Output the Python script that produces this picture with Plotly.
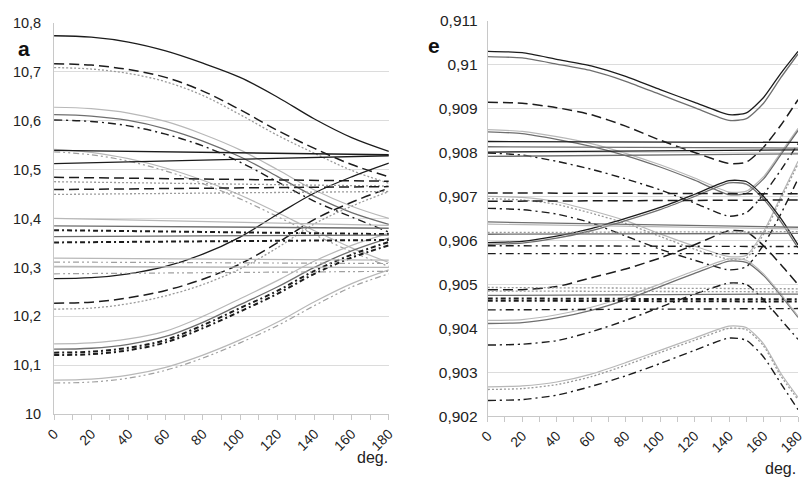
import plotly.graph_objects as go

# ---------------- data ----------------
X_A = [0, 20, 40, 60, 80, 100, 120, 140, 160, 180]
X_E = [0, 20, 40, 60, 80, 100, 120, 140, 150, 160, 170, 180]
X_FLAT = [0, 180]
X_TICKS = [0, 20, 40, 60, 80, 100, 120, 140, 160, 180]

A_YTICKS = [10, 10.1, 10.2, 10.3, 10.4, 10.5, 10.6, 10.7, 10.8]
A_YLABELS = ["10", "10,1", "10,2", "10,3", "10,4", "10,5", "10,6", "10,7", "10,8"]
E_YTICKS = [0.902, 0.903, 0.904, 0.905, 0.906, 0.907, 0.908, 0.909, 0.910, 0.911]
E_YLABELS = ["0,902", "0,903", "0,904", "0,905", "0,906", "0,907", "0,908", "0,909", "0,91", "0,911"]

# panel a - curves
a_top_solid = [10.773, 10.770, 10.760, 10.742, 10.717, 10.688, 10.648, 10.603, 10.565, 10.537]
a_dash_desc = [10.716, 10.713, 10.704, 10.688, 10.660, 10.622, 10.580, 10.543, 10.510, 10.485]
a_dot_desc = [10.708, 10.705, 10.696, 10.679, 10.651, 10.612, 10.570, 10.533, 10.498, 10.472]
a_lgray_desc1 = [10.627, 10.624, 10.615, 10.598, 10.572, 10.540, 10.500, 10.458, 10.425, 10.400]
a_gray_desc1 = [10.612, 10.609, 10.600, 10.583, 10.558, 10.526, 10.486, 10.445, 10.412, 10.388]
a_dashdot_desc = [10.601, 10.598, 10.589, 10.572, 10.548, 10.515, 10.475, 10.435, 10.403, 10.372]
a_lgray_desc2 = [10.541, 10.535, 10.522, 10.503, 10.478, 10.448, 10.412, 10.375, 10.340, 10.310]
a_gray_desc2 = [10.536, 10.530, 10.517, 10.497, 10.471, 10.440, 10.404, 10.367, 10.332, 10.302]
a_solid_rise = [10.277, 10.279, 10.287, 10.302, 10.327, 10.362, 10.408, 10.452, 10.485, 10.513]
a_dash_rise = [10.227, 10.229, 10.238, 10.253, 10.276, 10.307, 10.350, 10.398, 10.433, 10.462]
a_dot_rise = [10.215, 10.217, 10.226, 10.242, 10.265, 10.297, 10.340, 10.389, 10.425, 10.455]
a_lgray_rise1 = [10.144, 10.146, 10.154, 10.170, 10.200, 10.236, 10.273, 10.313, 10.345, 10.370]
a_gray_rise1 = [10.133, 10.135, 10.143, 10.159, 10.188, 10.224, 10.260, 10.300, 10.334, 10.360]
a_hdd_rise1 = [10.126, 10.128, 10.136, 10.152, 10.182, 10.217, 10.252, 10.293, 10.326, 10.352]
a_hdd_rise2 = [10.121, 10.123, 10.131, 10.147, 10.176, 10.210, 10.246, 10.287, 10.320, 10.345]
a_lgray_rise2 = [10.070, 10.072, 10.080, 10.096, 10.121, 10.152, 10.188, 10.230, 10.267, 10.295]
a_dashdot_rise = [10.064, 10.066, 10.074, 10.090, 10.115, 10.146, 10.181, 10.222, 10.260, 10.287]
# panel a - nearly flat lines (value at 0 and at 180 deg)
a_solid_flat1 = [10.539, 10.530]
a_solid_flat2 = [10.512, 10.528]
a_dash_flat1 = [10.484, 10.476]
a_dot_flat1 = [10.475, 10.466]
a_dash_flat2 = [10.459, 10.465]
a_dot_flat2 = [10.449, 10.455]
a_lgray_flat1 = [10.400, 10.386]
a_gray_flat1 = [10.385, 10.380]
a_hdd_flat1 = [10.376, 10.368]
a_gray_flat2 = [10.363, 10.366]
a_hdd_flat2 = [10.351, 10.356]
a_lgray_flat2 = [10.319, 10.315]
a_dashdot_flat1 = [10.311, 10.308]
a_lgray_flat3 = [10.302, 10.300]
a_dashdot_flat2 = [10.287, 10.292]

# panel e - curves
e_top_black = [0.91030, 0.91027, 0.91012, 0.90997, 0.90973, 0.90943, 0.90914, 0.90886, 0.90890, 0.90925, 0.90980, 0.91030]
e_top_gray = [0.91018, 0.91015, 0.91001, 0.90986, 0.90962, 0.90932, 0.90902, 0.90873, 0.90877, 0.90912, 0.90970, 0.91024]
e_dash_v = [0.90914, 0.90912, 0.90902, 0.90886, 0.90860, 0.90828, 0.90800, 0.90775, 0.90778, 0.90812, 0.90862, 0.90920]
e_lgray_v = [0.90852, 0.90848, 0.90836, 0.90820, 0.90798, 0.90772, 0.90742, 0.90710, 0.90712, 0.90745, 0.90800, 0.90855]
e_gray_v = [0.90847, 0.90843, 0.90830, 0.90814, 0.90793, 0.90767, 0.90737, 0.90704, 0.90707, 0.90740, 0.90795, 0.90850]
e_dashdot_v = [0.90799, 0.90794, 0.90780, 0.90762, 0.90740, 0.90715, 0.90685, 0.90655, 0.90663, 0.90705, 0.90760, 0.90820]
e_lgray_v2 = [0.90700, 0.90698, 0.90688, 0.90668, 0.90645, 0.90615, 0.90587, 0.90563, 0.90566, 0.90620, 0.90700, 0.90780]
e_dot_v2 = [0.90695, 0.90692, 0.90682, 0.90662, 0.90639, 0.90609, 0.90580, 0.90557, 0.90560, 0.90614, 0.90694, 0.90774]
e_dashdot_v2 = [0.90673, 0.90670, 0.90660, 0.90640, 0.90610, 0.90580, 0.90555, 0.90533, 0.90540, 0.90590, 0.90660, 0.90740]
e_black_hump1 = [0.90595, 0.90598, 0.90610, 0.90627, 0.90650, 0.90675, 0.90705, 0.90736, 0.90734, 0.90700, 0.90650, 0.90590]
e_gray_hump1 = [0.90591, 0.90594, 0.90605, 0.90622, 0.90645, 0.90670, 0.90700, 0.90731, 0.90728, 0.90694, 0.90643, 0.90583]
e_dash_hump = [0.90488, 0.90488, 0.90495, 0.90515, 0.90535, 0.90560, 0.90590, 0.90622, 0.90620, 0.90588, 0.90545, 0.90500]
e_dark_hump2 = [0.90411, 0.90413, 0.90424, 0.90441, 0.90465, 0.90495, 0.90525, 0.90553, 0.90550, 0.90520, 0.90475, 0.90425]
e_lgray_hump2 = [0.90418, 0.90420, 0.90431, 0.90448, 0.90472, 0.90501, 0.90531, 0.90558, 0.90555, 0.90524, 0.90478, 0.90428]
e_dashdot_hump3 = [0.90362, 0.90364, 0.90372, 0.90392, 0.90418, 0.90448, 0.90478, 0.90503, 0.90500, 0.90465, 0.90420, 0.90375]
e_lgray_hump4 = [0.90267, 0.90269, 0.90278, 0.90296, 0.90322, 0.90350, 0.90378, 0.90405, 0.90402, 0.90365, 0.90298, 0.90243]
e_dot_hump4 = [0.90261, 0.90263, 0.90272, 0.90290, 0.90316, 0.90345, 0.90373, 0.90400, 0.90397, 0.90360, 0.90292, 0.90238]
e_dashdot_hump4 = [0.90236, 0.90238, 0.90248, 0.90268, 0.90292, 0.90320, 0.90350, 0.90378, 0.90373, 0.90335, 0.90275, 0.90215]
# panel e - nearly flat lines
e_black_flat1 = [0.90825, 0.90823]
e_gray_flat1 = [0.90813, 0.90810]
e_black_flat2 = [0.90801, 0.90806]
e_gray_flat2 = [0.90791, 0.90797]
e_dash_flat1 = [0.90708, 0.90706]
e_dash_flat2 = [0.90689, 0.90692]
e_gray_flat3 = [0.90642, 0.90630]
e_lgray_flat3 = [0.90637, 0.90626]
e_dot_flat3 = [0.90618, 0.90620]
e_gray_flat4 = [0.90614, 0.90616]
e_dashdot_flat1 = [0.90588, 0.90586]
e_dashdot_flat2 = [0.90570, 0.90570]
e_dot_flat5 = [0.90493, 0.90490]
e_dot_flat6 = [0.90485, 0.90483]
e_gray_flat5 = [0.90475, 0.90478]
e_hdd_flat1 = [0.90468, 0.90466]
e_hdd_flat2 = [0.90463, 0.90461]
e_dashdot_flat3 = [0.90442, 0.90445]

# ---------------- styles ----------------
BLACK = "#1c1c1c"
GRAY = "#6f6f6f"
LGRAY = "#b8b8b8"
STYLES = {
    "solid": dict(color=BLACK, dash="solid", width=1.3),
    "gray": dict(color=GRAY, dash="solid", width=1.3),
    "lgray": dict(color=LGRAY, dash="solid", width=1.2),
    "dash": dict(color=BLACK, dash="10px,5px", width=1.5),
    "dot": dict(color="#9a9a9a", dash="2px,2px", width=1.3),
    "dashdot": dict(color=BLACK, dash="8px,4px,2px,4px", width=1.4),
    "hdd": dict(color=BLACK, dash="5px,3px,2px,3px", width=2.0),
    "gdd": dict(color="#a0a0a0", dash="6px,3px,2px,3px,2px,3px", width=1.2),
}

A_SERIES = [
    (X_A, a_top_solid, "solid"), (X_A, a_dash_desc, "dash"), (X_A, a_dot_desc, "dot"),
    (X_A, a_lgray_desc1, "lgray"), (X_A, a_gray_desc1, "gray"), (X_A, a_dashdot_desc, "dashdot"),
    (X_A, a_lgray_desc2, "lgray"), (X_A, a_gray_desc2, "gdd"),
    (X_A, a_solid_rise, "solid"), (X_A, a_dash_rise, "dash"), (X_A, a_dot_rise, "dot"),
    (X_A, a_lgray_rise1, "lgray"), (X_A, a_gray_rise1, "gray"), (X_A, a_hdd_rise1, "hdd"),
    (X_A, a_hdd_rise2, "hdd"), (X_A, a_lgray_rise2, "lgray"), (X_A, a_dashdot_rise, "gdd"),
    (X_FLAT, a_solid_flat1, "solid"), (X_FLAT, a_solid_flat2, "solid"),
    (X_FLAT, a_dash_flat1, "dash"), (X_FLAT, a_dot_flat1, "dot"),
    (X_FLAT, a_dash_flat2, "dash"), (X_FLAT, a_dot_flat2, "dot"),
    (X_FLAT, a_lgray_flat1, "lgray"), (X_FLAT, a_gray_flat1, "gray"), (X_FLAT, a_hdd_flat1, "hdd"),
    (X_FLAT, a_gray_flat2, "gray"), (X_FLAT, a_hdd_flat2, "hdd"),
    (X_FLAT, a_lgray_flat2, "lgray"), (X_FLAT, a_dashdot_flat1, "gdd"),
    (X_FLAT, a_lgray_flat3, "lgray"), (X_FLAT, a_dashdot_flat2, "gdd"),
]

E_SERIES = [
    (X_E, e_top_black, "solid"), (X_E, e_top_gray, "gray"), (X_E, e_dash_v, "dash"),
    (X_E, e_lgray_v, "lgray"), (X_E, e_gray_v, "gray"), (X_E, e_dashdot_v, "dashdot"),
    (X_E, e_lgray_v2, "lgray"), (X_E, e_dot_v2, "dot"), (X_E, e_dashdot_v2, "dashdot"),
    (X_E, e_black_hump1, "solid"), (X_E, e_gray_hump1, "gray"), (X_E, e_dash_hump, "dash"),
    (X_E, e_dark_hump2, "gray"), (X_E, e_lgray_hump2, "lgray"), (X_E, e_dashdot_hump3, "dashdot"),
    (X_E, e_lgray_hump4, "lgray"), (X_E, e_dot_hump4, "dot"), (X_E, e_dashdot_hump4, "dashdot"),
    (X_FLAT, e_black_flat1, "solid"), (X_FLAT, e_gray_flat1, "gray"),
    (X_FLAT, e_black_flat2, "solid"), (X_FLAT, e_gray_flat2, "gray"),
    (X_FLAT, e_dash_flat1, "dash"), (X_FLAT, e_dash_flat2, "dash"),
    (X_FLAT, e_gray_flat3, "gray"), (X_FLAT, e_lgray_flat3, "lgray"),
    (X_FLAT, e_dot_flat3, "dot"), (X_FLAT, e_gray_flat4, "gray"),
    (X_FLAT, e_dashdot_flat1, "dashdot"), (X_FLAT, e_dashdot_flat2, "dashdot"),
    (X_FLAT, e_dot_flat5, "dot"), (X_FLAT, e_dot_flat6, "dot"), (X_FLAT, e_gray_flat5, "gray"),
    (X_FLAT, e_hdd_flat1, "hdd"), (X_FLAT, e_hdd_flat2, "hdd"), (X_FLAT, e_dashdot_flat3, "dashdot"),
]

fig = go.Figure()
for xs, ys, st in A_SERIES:
    s = STYLES[st]
    fig.add_trace(go.Scatter(x=xs, y=ys, mode="lines", xaxis="x", yaxis="y",
                             line=dict(color=s["color"], dash=s["dash"], width=s["width"],
                                       shape="spline", smoothing=1.0),
                             showlegend=False, hoverinfo="skip"))
for xs, ys, st in E_SERIES:
    s = STYLES[st]
    fig.add_trace(go.Scatter(x=xs, y=ys, mode="lines", xaxis="x2", yaxis="y2",
                             line=dict(color=s["color"], dash=s["dash"], width=s["width"],
                                       shape="spline", smoothing=0.6),
                             showlegend=False, hoverinfo="skip"))

W, H = 807, 488
FONT = "Liberation Sans, Arial, sans-serif"
xcommon = dict(range=[0, 180], tickvals=X_TICKS, ticktext=[str(v) for v in X_TICKS],
               tickangle=-45, ticks="outside", ticklen=5, tickcolor="#c8c8c8",
               showline=True, linecolor="#c8c8c8", linewidth=1, showgrid=False, zeroline=False,
               minor=dict(dtick=10, tick0=0, ticks="outside", ticklen=5, tickcolor="#c8c8c8", showgrid=False),
               tickfont=dict(family=FONT, size=14, color="#222"))
ycommon = dict(showline=True, linecolor="#c8c8c8", linewidth=1, showgrid=True, gridcolor="#dcdcdc",
               gridwidth=1, zeroline=False, ticks="")

fig.update_layout(
    width=W, height=H, margin=dict(l=0, r=0, t=0, b=0),
    paper_bgcolor="white", plot_bgcolor="white",
    xaxis=dict(domain=[45 / W, 387 / W], anchor="y", **xcommon),
    yaxis=dict(domain=[(H - 420) / H, (H - 14) / H], anchor="x", range=[10, 10.8],
               tickvals=A_YTICKS, ticktext=A_YLABELS, ticklabelstandoff=9,
               tickfont=dict(family=FONT, size=14.5, color="#222"), **ycommon),
    xaxis2=dict(domain=[488 / W, 805 / W], anchor="y2", **xcommon),
    yaxis2=dict(domain=[(H - 422) / H, (H - 12) / H], anchor="x2", range=[0.902, 0.911],
                tickvals=E_YTICKS, ticktext=E_YLABELS, ticklabelstandoff=6,
                tickfont=dict(family=FONT, size=15.5, color="#222"), **ycommon),
    annotations=[
        dict(text="<b>a</b>", x=6, y=H - 41, xref="paper", yref="paper", showarrow=False,
             xanchor="left", yanchor="middle", font=dict(family=FONT, size=21, color="#111")),
        dict(text="<b>e</b>", x=425, y=H - 38, xref="paper", yref="paper", showarrow=False,
             xanchor="left", yanchor="middle", font=dict(family=FONT, size=21, color="#111")),
        dict(text="deg.", x=370, y=H - 465, xref="paper", yref="paper", showarrow=False,
             xanchor="center", yanchor="middle", font=dict(family=FONT, size=16, color="#222")),
        dict(text="deg.", x=787, y=H - 476, xref="paper", yref="paper", showarrow=False,
             xanchor="center", yanchor="middle", font=dict(family=FONT, size=16, color="#222")),
    ],
)
for ann in fig.layout.annotations:
    ann.x = ann.x / W
    ann.y = ann.y / H

fig.write_html("out.html")
